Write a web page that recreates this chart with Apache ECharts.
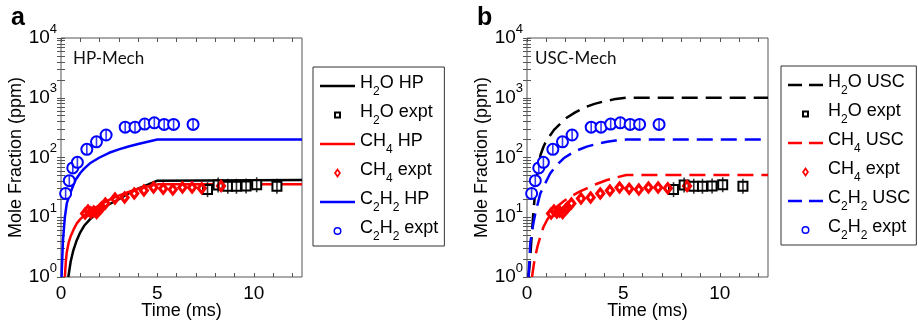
<!DOCTYPE html>
<html><head><meta charset="utf-8">
<script src="https://cdn.jsdelivr.net/npm/echarts@6/dist/echarts.min.js"></script>
<style>html,body{margin:0;padding:0;background:#fff}#c{width:918px;height:320px}</style>
</head><body><div id="c"></div>
<script>
// ---------- experimental data (identical in both panels) ----------
const h2oExptTime = [7.6, 8.15, 8.65, 9.1, 9.6, 10.15, 11.2];
const h2oExptVal  = [29, 34.5, 33, 33, 33.5, 35, 33];
const ch4ExptTime = [1.25, 1.4, 1.55, 1.7, 1.85, 2.0, 2.1, 2.3, 2.8, 3.3, 3.8, 4.3, 4.8, 5.3, 5.8, 6.3, 6.8, 7.3, 8.3];
const ch4ExptVal  = [11.5, 13, 12, 12.5, 11.8, 13.5, 14.5, 17, 20.5, 21.5, 25, 28, 31.5, 30, 29, 31.5, 31.5, 30.5, 33.5];
const c2h2ExptTime = [0.24, 0.43, 0.61, 0.85, 1.34, 1.84, 2.34, 3.33, 3.84, 4.34, 4.84, 5.35, 5.84, 6.85];
const c2h2ExptVal  = [25, 41, 67, 83, 137, 183, 238, 322, 322, 362, 380, 358, 358, 358];

// ---------- HP-Mech model ----------
const hpH2OTime = [0.38, 0.5, 0.64, 0.8, 1.0, 1.2, 1.5, 2.0, 2.5, 3.0, 3.5, 4.0, 4.5, 5.0, 12.5];
const hpH2OVal  = [1, 1.8, 2.8, 4, 5.6, 7.2, 9.2, 13, 16.5, 20, 25, 30, 35, 41, 42];
const hpCH4Time = [0.2, 0.25, 0.3, 0.4, 0.5, 0.65, 0.82, 1.0, 1.34, 2.0, 2.5, 3.0, 3.5, 4.0, 4.5, 5.0, 12.5];
const hpCH4Val  = [1, 1.8, 2.6, 3.8, 4.8, 6.2, 7.9, 9.3, 11.7, 16, 19.5, 23, 26.5, 30, 33, 35.5, 35.5];
const hpC2H2Time = [0.03, 0.1, 0.2, 0.3, 0.47, 0.75, 1.0, 1.2, 1.5, 2.0, 2.5, 3.0, 3.5, 4.0, 4.5, 5.0, 12.5];
const hpC2H2Val  = [1, 4, 10, 17, 25, 42, 55, 65, 80, 100, 120, 137, 153, 168, 184, 200, 200];

// ---------- USC-Mech model ----------
const uscH2OTime = [0.08, 0.15, 0.2, 0.3, 0.4, 0.5, 0.6, 0.7, 0.85, 1.0, 1.4, 2.0, 2.5, 3.0, 3.5, 4.0, 4.5, 5.15, 12.5];
const uscH2OVal  = [1, 1.8, 3, 9, 22, 45, 75, 110, 150, 190, 290, 450, 570, 690, 790, 870, 940, 1000, 1000];
const uscCH4Time = [0.26, 0.35, 0.43, 0.55, 0.69, 0.85, 1.04, 1.3, 1.55, 1.9, 2.24, 2.7, 3.1, 3.6, 4.15, 4.6, 5.15, 12.5];
const uscCH4Val  = [1, 1.6, 2.2, 3.3, 4.7, 6.8, 9, 12, 15, 18.5, 22, 26.5, 30.4, 36, 42, 46, 51, 51];
const uscC2H2Time = [0.08, 0.17, 0.3, 0.43, 0.69, 1.0, 1.2, 1.5, 1.9, 2.5, 3.1, 3.6, 4.15, 4.6, 5.15, 12.5];
const uscC2H2Val  = [1, 3.7, 7, 11.6, 25, 40, 54, 72, 97, 128, 152, 168, 183, 192, 200, 200];

// ---------- axes ticks ----------
const yMajorTicks = [1, 10, 100, 1000, 10000];
const yAllTicks = [];
for (let d = 1; d < 10000; d *= 10) for (let k = 1; k < 10; k++) yAllTicks.push(k * d);
yAllTicks.push(10000);
const xTicks = [0,1,2,3,4,5,6,7,8,9,10,11,12];
const xLabelTicks = [0, 5, 10];

const legendLabels = {
  'a:h2o': ['H','2','O HP'], 'a:h2oE': ['H','2','O expt'],
  'a:ch4': ['CH','4',' HP'], 'a:ch4E': ['CH','4',' expt'],
  'a:c2h2': ['C','2','H','2',' HP'], 'a:c2h2E': ['C','2','H','2',' expt'],
  'b:h2o': ['H','2','O USC'], 'b:h2oE': ['H','2','O expt'],
  'b:ch4': ['CH','4',' USC'], 'b:ch4E': ['CH','4',' expt'],
  'b:c2h2': ['C','2','H','2',' USC'], 'b:c2h2E': ['C','2','H','2',' expt']
};

const FONT = '"Liberation Sans", Arial, sans-serif';
const AX = '#555';
const BLACK = '#000000', RED = '#ff0000', BLUE = '#0000ff';
const pairs = (t, v) => t.map((x, i) => [x, v[i]]);

// legend icons (10px-high box; tiny corner specks fix the bounding box)
const CORNERS = 'M0,0h0.01v0.01h-0.01ZM10,10h-0.01v-0.01h0.01Z';
const ICON_SOLID = 'path://M0,0H35V2.4H0Z';
const ICON_DASH = 'path://M0,0H14V2.4H0ZM21,0H35V2.4H21Z';
const ICON_SQUARE = 'path://' + CORNERS + 'M1.5,1.5H8.5V8.5H1.5ZM3.5,3.5V6.5H6.5V3.5Z';
const ICON_DIAMOND = 'path://' + CORNERS + 'M5,0L8.5,5L5,10L1.5,5ZM5,3L3.6,5L5,7L6.4,5Z';
const ICON_RING = 'path://' + CORNERS + 'M1,5A4,4 0 1,0 9,5A4,4 0 1,0 1,5ZM2.5,5A2.5,2.5 0 1,1 7.5,5A2.5,2.5 0 1,1 2.5,5Z';
const MARK_DIAMOND = 'path://M5,0L10,6.5L5,13L0,6.5ZM5,4.6L3.6,6.5L5,8.4L6.4,6.5Z';

function fmtLegend(name) {
  const parts = legendLabels[name];
  return parts.map((p, i) => (i % 2 === 0 ? '{n|' + p + '}' : '{s|' + p + '}')).join('');
}

const gridsPos = [{left: 61, top: 38, width: 241, height: 239}, {left: 527, top: 38, width: 241, height: 239}];

const xAxes = [], yAxes = [], grids = [];
gridsPos.forEach((g, gi) => {
  grids.push(Object.assign({show: true, borderColor: AX, borderWidth: 1, backgroundColor: '#fff', outerBoundsMode: 'none', containLabel: false}, g));
  xAxes.push({
    type: 'value', gridIndex: gi, min: 0, max: 12.5, interval: 5, position: 'bottom',
    axisLine: {show: false}, splitLine: {show: false},
    axisTick: {show: true, inside: true, length: 4, customValues: xTicks, lineStyle: {color: AX}},
    axisLabel: {margin: 7, fontFamily: FONT, fontSize: 19, color: '#000', customValues: xLabelTicks},
    name: 'Time (ms)', nameLocation: 'middle', nameGap: 25, nameMoveOverlap: false,
    nameTextStyle: {fontFamily: FONT, fontSize: 18, color: '#000'}
  });
  xAxes.push({
    type: 'value', gridIndex: gi, min: 0, max: 12.5, interval: 5, position: 'top',
    axisLine: {show: false}, splitLine: {show: false}, axisLabel: {show: false},
    axisTick: {show: true, inside: true, length: 4, customValues: xTicks, lineStyle: {color: AX}}
  });
  yAxes.push({
    type: 'log', logBase: 10, gridIndex: gi, min: 1, max: 10000, position: 'left',
    axisLine: {show: false}, splitLine: {show: false},
    axisTick: {show: true, inside: true, length: 4, customValues: yAllTicks, lineStyle: {color: AX}},
    axisLabel: {
      margin: 4, customValues: yMajorTicks,
      formatter: v => '{b|10}{s|' + Math.round(Math.log10(v)) + '}',
      rich: {
        b: {fontFamily: FONT, fontSize: 19, color: '#000', verticalAlign: 'top', padding: [6, 0, 6, 0]},
        s: {fontFamily: FONT, fontSize: 13, color: '#000', verticalAlign: 'top', padding: [0, 0, 0, 0]}
      }
    },
    name: 'Mole Fraction (ppm)', nameLocation: 'middle', nameGap: 36, nameRotate: 90, nameMoveOverlap: false,
    nameTextStyle: {fontFamily: FONT, fontSize: 18, color: '#000'}
  });
  yAxes.push({
    type: 'log', logBase: 10, gridIndex: gi, min: 1, max: 10000, position: 'right',
    axisLine: {show: false}, splitLine: {show: false}, axisLabel: {show: false},
    axisTick: {show: true, inside: true, length: 4, customValues: yAllTicks, lineStyle: {color: AX}}
  });
});

function lineSeries(name, gi, t, v, color, dashed) {
  return {
    name, type: 'line', xAxisIndex: gi * 2, yAxisIndex: gi * 2, data: pairs(t, v),
    symbol: 'none', showSymbol: false, smooth: false, z: 2,
    lineStyle: {color, width: 2.5, type: dashed ? [16, 8] : 'solid'},
    itemStyle: {color}
  };
}
function scatterSeries(name, gi, t, v, color, symbol, size, bw) {
  return {
    name, type: 'scatter', xAxisIndex: gi * 2, yAxisIndex: gi * 2, data: pairs(t, v),
    symbol, symbolSize: size, z: 4,
    itemStyle: {color: color, borderColor: color, borderWidth: bw, opacity: 1}
  };
}
function errSeries(gi, t, v, color, len) {
  return {
    type: 'scatter', xAxisIndex: gi * 2, yAxisIndex: gi * 2, data: pairs(t, v),
    symbol: 'rect', symbolSize: [1.6, len], z: 5, silent: true,
    itemStyle: {color}
  };
}

const series = [];
const panels = [
  {p: 'a', dashed: false, h2o: [hpH2OTime, hpH2OVal], ch4: [hpCH4Time, hpCH4Val], c2h2: [hpC2H2Time, hpC2H2Val]},
  {p: 'b', dashed: true, h2o: [uscH2OTime, uscH2OVal], ch4: [uscCH4Time, uscCH4Val], c2h2: [uscC2H2Time, uscC2H2Val]}
];
panels.forEach((P, gi) => {
  series.push(lineSeries(P.p + ':h2o', gi, P.h2o[0], P.h2o[1], BLACK, P.dashed));
  series.push(lineSeries(P.p + ':ch4', gi, P.ch4[0], P.ch4[1], RED, P.dashed));
  series.push(lineSeries(P.p + ':c2h2', gi, P.c2h2[0], P.c2h2[1], BLUE, P.dashed));
  series.push(scatterSeries(P.p + ':h2oE', gi, h2oExptTime, h2oExptVal, BLACK, 'emptyRect', 9, 2.5));
  series.push(errSeries(gi, h2oExptTime, h2oExptVal, BLACK, 15));
  series.push(scatterSeries(P.p + ':ch4E', gi, ch4ExptTime, ch4ExptVal, RED, MARK_DIAMOND, [11, 14], 0));
  series.push(scatterSeries(P.p + ':c2h2E', gi, c2h2ExptTime, c2h2ExptVal, BLUE, 'emptyCircle', 11, 2.5));
  series.push(errSeries(gi, c2h2ExptTime, c2h2ExptVal, BLUE, 10));
});

function legendFor(p, left, top, dashed) {
  const lineIcon = dashed ? ICON_DASH : ICON_SOLID;
  return {
    orient: 'vertical', left, top, selectedMode: false,
    data: [
      {name: p + ':h2o', icon: lineIcon, itemStyle: {color: BLACK, borderWidth: 0}},
      {name: p + ':h2oE', icon: ICON_SQUARE, itemStyle: {color: BLACK, borderWidth: 0}},
      {name: p + ':ch4', icon: lineIcon, itemStyle: {color: RED, borderWidth: 0}},
      {name: p + ':ch4E', icon: ICON_DIAMOND, itemStyle: {color: RED, borderWidth: 0}},
      {name: p + ':c2h2', icon: lineIcon, itemStyle: {color: BLUE, borderWidth: 0}},
      {name: p + ':c2h2E', icon: ICON_RING, itemStyle: {color: BLUE, borderWidth: 0}}
    ],
    itemWidth: 35, itemHeight: 10, itemGap: 5,
    borderColor: '#333', borderWidth: 1, padding: [7, 6, 3, 7], backgroundColor: '#fff',
    formatter: fmtLegend,
    textStyle: {
      fontFamily: FONT, fontSize: 18, color: '#000',
      rich: {
        n: {fontFamily: FONT, fontSize: 18, color: '#000', verticalAlign: 'top', padding: [0, 0, 0, 0]},
        s: {fontFamily: FONT, fontSize: 12, color: '#000', verticalAlign: 'top', padding: [12, 0, 0, 0]}
      }
    }
  };
}

const option = {
  animation: false,
  backgroundColor: '#fff',
  grid: grids,
  xAxis: xAxes,
  yAxis: yAxes,
  legend: [legendFor('a', 313, 67, false), legendFor('b', 781, 66, true)],
  graphic: [
    {type: 'text', left: 11, top: 6, style: {text: 'a', font: 'bold 25px "Liberation Sans", Arial', fill: '#000'}},
    {type: 'text', left: 477, top: 6, style: {text: 'b', font: 'bold 25px "Liberation Sans", Arial', fill: '#000'}},
    {type: 'text', left: 73, top: 50, style: {text: 'HP-Mech', font: '17px Lato, "Open Sans", sans-serif', fill: '#111'}},
    {type: 'text', left: 535, top: 50, style: {text: 'USC-Mech', font: '17px Lato, "Open Sans", sans-serif', fill: '#111'}}
  ],
  series
};
const chart = echarts.init(document.getElementById('c'));
chart.setOption(option);
</script>
</body></html>
